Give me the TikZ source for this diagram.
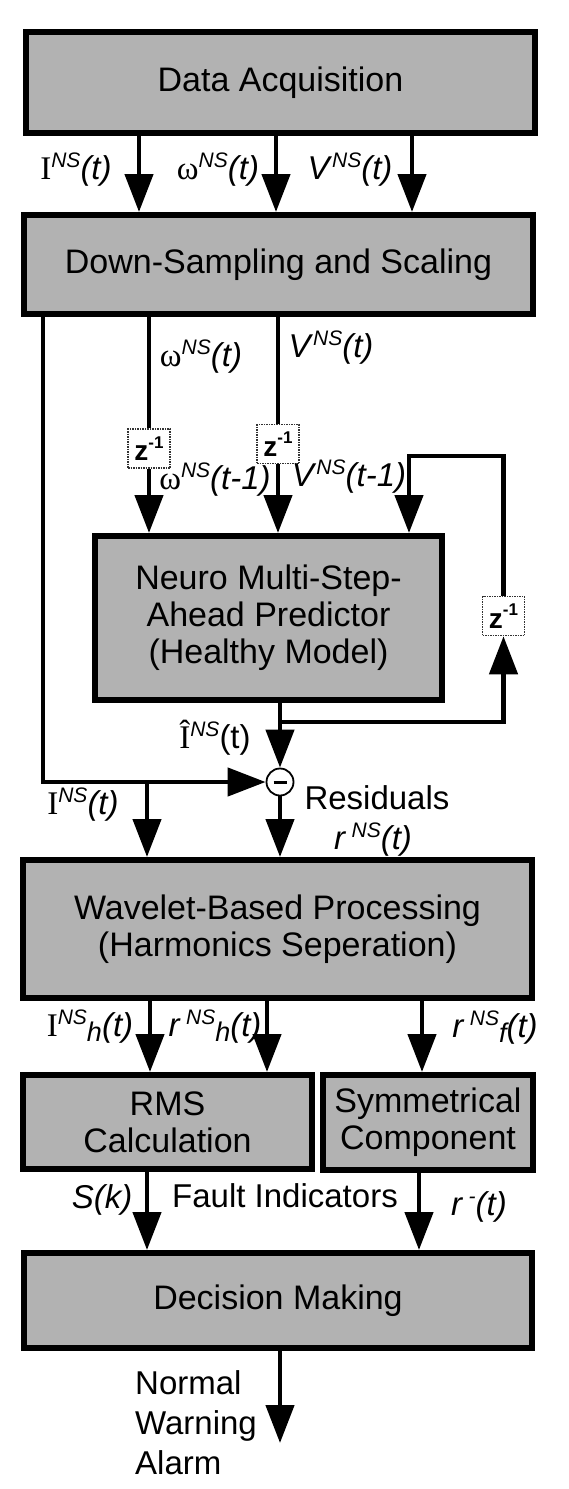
\documentclass[tikz,border=0pt]{standalone}
\usepackage{fontspec}
\setmainfont{Liberation Sans}
\newfontfamily\serifrm{Liberation Serif}
\usetikzlibrary{arrows.meta, positioning}

\newcommand{\boxfont}{\fontsize{34}{37}\selectfont}
\newcommand{\labfont}{\fontsize{33}{40}\selectfont}
\newcommand{\nsup}[1]{\raisebox{0.36em}{\fontsize{21}{21}\selectfont\itshape #1}}
\newcommand{\nsub}[1]{\raisebox{-5pt}{\fontsize{27}{27}\selectfont\itshape #1}}
\newcommand{\zinv}{z\raisebox{0.45em}{\fontsize{17}{17}\selectfont -1}}

\begin{document}
\begin{tikzpicture}[
    x=1pt, y=-1pt,
    block/.style={rectangle, draw, line width=6pt, fill=black!30, font=\boxfont, align=center, inner sep=0pt},
    delay/.style={rectangle, draw=black!80, densely dotted, line width=1.5pt, fill=white, minimum width=42pt, minimum height=39pt, inner sep=0pt, font=\bfseries\fontsize{28}{28}\selectfont},
    sum/.style={circle, draw, line width=1.8pt, fill=white, minimum size=27pt, inner sep=0pt},
    lab/.style={font=\labfont, inner sep=0pt},
    wire/.style={line width=4.5pt},
    arrow/.style={line width=4.5pt, -{Triangle[length=38pt,width=28pt]}}
]
\useasboundingbox (0,0) rectangle (568,1489);

\node[block, minimum width=509pt, minimum height=101pt] (acq) at (280.5,82.5) {Data Acquisition};
\node[block, minimum width=509pt, minimum height=99pt] (ds) at (278.5,264.5) {Down-Sampling and Scaling};
\node[block, minimum width=347pt, minimum height=164pt] (neuro) at (268.5,618) {Neuro Multi-Step-\\Ahead Predictor\\(Healthy Model)};
\node[block, minimum width=509pt, minimum height=138pt] (wave) at (277.5,929) {Wavelet-Based Processing\\(Harmonics Seperation)};
\node[block, minimum width=289pt, minimum height=94pt] (rms) at (167.5,1122) {RMS\\Calculation};
\node[block, minimum width=210pt, minimum height=95pt] (sym) at (428,1122.5) {Symmetrical\\Component};
\node[block, minimum width=508pt, minimum height=95pt] (dec) at (278,1300.5) {Decision Making};

\coordinate (xI) at (139,0);
\coordinate (xW) at (276,0);
\coordinate (xV) at (412,0);
\coordinate (xL) at (43,0);
\coordinate (xB) at (147,0);
\coordinate (xh1) at (150,0);
\coordinate (xh2) at (267,0);
\coordinate (xf) at (422,0);
\coordinate (xS) at (147,0);
\coordinate (xm) at (419,0);
\coordinate (tap) at (280,722);
\coordinate (loop) at (409,456);
\coordinate (out) at (280,1443);

\node[delay] (zw) at (149,448.5) {\zinv};
\node[delay] (zv) at (278,444) {\zinv};
\node[delay] (zf) at (503.5,616) {\zinv};
\node[sum] (sub) at (280,782) {\rule{13pt}{3pt}};

\foreach \c in {xI,xW,xV}
    \draw[arrow] (acq.south -| \c) -- (ds.north -| \c);

\draw[wire] (ds.south -| zw) -- (zw.north);
\draw[arrow] (zw.south) -- (neuro.north -| zw);
\draw[wire] (ds.south -| zv) -- (zv.north);
\draw[arrow] (zv.south) -- (neuro.north -| zv);
\draw[arrow] (ds.south -| xL) |- (sub.west);
\draw[arrow] (neuro.south -| sub) -- (sub.north);
\draw[arrow] (tap) -| (zf.south);
\draw[arrow] (zf.north) |- (loop) -- (neuro.north -| loop);
\draw[arrow] (sub -| xB) -- (wave.north -| xB);
\draw[arrow] (sub.south) -- (wave.north -| sub);
\draw[arrow] (wave.south -| xh1) -- (rms.north -| xh1);
\draw[arrow] (wave.south -| xh2) -- (rms.north -| xh2);
\draw[arrow] (wave.south -| xf) -- (sym.north -| xf);
\draw[arrow] (rms.south -| xS) -- (dec.north -| xS);
\draw[arrow] (sym.south -| xm) -- (dec.north -| xm);
\draw[arrow] (dec.south -| out) -- (out);

\node[lab] (lI) at (76,170) {{\serifrm I}\nsup{NS}\textit{(t)}};
\node[lab] (lW) at (218,170) {{\serifrm ω}\nsup{NS}\textit{(t)}};
\node[lab] (lV) at (350,170) {\textit{V}\nsup{NS}\textit{(t)}};
\node[lab] (lW2) at (201,357) {{\serifrm ω}\nsup{NS}\textit{(t)}};
\node[lab] (lV2) at (331,348) {\textit{V}\nsup{NS}\textit{(t)}};
\node[lab] (lW3) at (215,480) {{\serifrm ω}\nsup{NS}\textit{(t-1)}};
\node[lab] (lV3) at (349,477) {\textit{V}\nsup{NS}\textit{(t-1)}};
\node[lab] (lIh) at (215,738) {{\serifrm Î}\nsup{NS}(t)};
\node[lab] (lI2) at (83,805) {{\serifrm I}\nsup{NS}\textit{(t)}};
\node[lab] (res) at (377,798) {Residuals};
\node[lab] (lr) at (373,840) {\textit{r}\,\nsup{NS}\textit{(t)}};
\node[lab] (lIh1) at (90,1027) {{\serifrm I}\nsup{NS}\nsub{h}\textit{(t)}};
\node[lab] (lrh) at (215,1027) {\textit{r}\,\nsup{NS}\nsub{h}\textit{(t)}};
\node[lab] (lrf) at (495,1028) {\textit{r}\,\nsup{NS}\nsub{f}\textit{(t)}};
\node[lab] (lS) at (102,1200) {\textit{S(k)}};
\node[lab] (fault) at (285,1196) {Fault Indicators};
\node[lab] (lrm) at (479,1207) {\textit{r}\,\nsup{-}\textit{(t)}};
\node[lab, align=left, anchor=west] (state) at (135,1423) {Normal\\Warning\\Alarm};

\end{tikzpicture}
\end{document}
